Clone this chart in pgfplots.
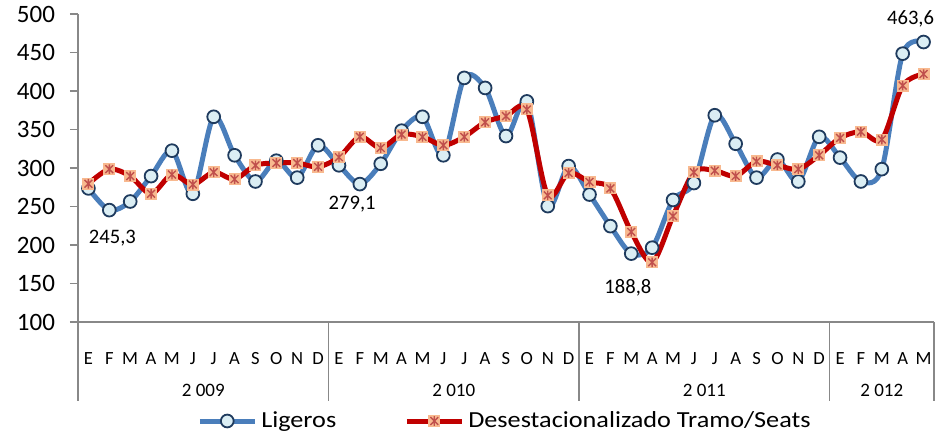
\documentclass[border=0pt]{standalone}
\usepackage{fontspec}
\setmainfont{Carlito}
\usepackage{graphicx}
\usepackage{pgfplots}
\usepackage{pgfplotstable}
\pgfplotsset{compat=1.18}
\definecolor{lblue}{HTML}{4A7EBB}
\definecolor{cfill}{HTML}{DBEEF4}
\definecolor{cdraw}{HTML}{1F3B5E}
\definecolor{lred}{HTML}{C00000}
\definecolor{sqfill}{HTML}{F8B98F}
\definecolor{xred}{HTML}{C0504D}
\definecolor{axgray}{HTML}{888888}

\pgfdeclareplotmark{xsq}{%
  \pgfpathrectangle{\pgfqpoint{-\pgfplotmarksize}{-\pgfplotmarksize}}{\pgfqpoint{2\pgfplotmarksize}{2\pgfplotmarksize}}%
  \pgfsetfillcolor{sqfill}\pgfusepathqfill
  \pgfsetstrokecolor{xred}\pgfsetlinewidth{0.7pt}%
  \pgfpathmoveto{\pgfpoint{-0.65\pgfplotmarksize}{-0.65\pgfplotmarksize}}%
  \pgfpathlineto{\pgfpoint{0.65\pgfplotmarksize}{0.65\pgfplotmarksize}}%
  \pgfpathmoveto{\pgfpoint{-0.65\pgfplotmarksize}{0.65\pgfplotmarksize}}%
  \pgfpathlineto{\pgfpoint{0.65\pgfplotmarksize}{-0.65\pgfplotmarksize}}%
  \pgfpathmoveto{\pgfpoint{0pt}{-0.8\pgfplotmarksize}}%
  \pgfpathlineto{\pgfpoint{0pt}{0.8\pgfplotmarksize}}%
  \pgfusepathqstroke
}

\pgfplotstableread{
x lig des
0 273.5 279.5
1 245.3 298.5
2 256.5 289.5
3 289.5 266.5
4 322.5 291.5
5 266.5 278.5
6 366.5 294.5
7 316.5 285.5
8 282.5 303.5
9 309.5 306.5
10 287.5 306.5
11 329.5 301.5
12 303.5 314
13 279.1 340.5
14 305.5 326
15 348.5 343.5
16 366.5 340.5
17 316.5 329.5
18 417 340.5
19 404 359.5
20 341.5 367.5
21 386.5 376
22 250.5 264.5
23 302.5 293.5
24 265.5 282
25 224.5 273.5
26 188.8 217
27 196.5 177.5
28 258.5 237.5
29 280.5 294.5
30 368.5 296.5
31 331.5 289.5
32 287.5 308.5
33 311 303.5
34 282.5 298.5
35 340.5 316.5
36 313.5 339
37 282.5 347
38 298.5 337
39 448.5 407
40 463.6 422
}\data

\begin{document}
\begin{tikzpicture}
\begin{axis}[
  name=ax,
  width=428pt, height=154pt, scale only axis,
  xmin=-0.5, xmax=40.5, ymin=100, ymax=500,
  clip=false,
  axis x line*=bottom, axis y line*=left,
  axis line style={axgray, line width=0.75pt, -},
  ytick={100,150,...,500},
  ytick style={axgray, line width=0.75pt},
  tick align=outside, major tick length=4pt,
  xtick={0,...,40},
  xtick style={draw=none},
  xticklabels={E,F,M,A,M,J,J,A,S,O,N,D,E,F,M,A,M,J,J,A,S,O,N,D,E,F,M,A,M,J,J,A,S,O,N,D,E,F,M,A,M},
  x tick label style={font=\fontsize{9.3}{11}\selectfont, anchor=base, yshift=-17.5pt},
  y tick label style={font=\fontsize{12.5}{15}\selectfont, xshift=-4pt},
  /pgf/number format/assume math mode=true,
  legend columns=2,
  legend style={at={(0.5,0)}, anchor=center, yshift=-49.5pt, draw=none, fill=none,
    font=\fontsize{11.5}{14}\selectfont,
    nodes={inner xsep=2pt},
    /tikz/every even column/.append style={column sep=32pt}},
  legend image code/.code={\draw[mark repeat=2,mark phase=2,#1] plot coordinates {(0pt,0pt)(13.75pt,0pt)(27.5pt,0pt)};},
]
\addplot[lblue, line width=2.5pt, smooth, mark=*, mark size=3.2pt,
  mark options={fill=cfill, draw=cdraw, line width=0.9pt}] table[x=x,y=lig] {\data};
\addlegendentry{\scalebox{1.14}[1]{Ligeros}}
\addplot[lred, line width=2.5pt, smooth, mark=xsq, mark size=3pt] table[x=x,y=des] {\data};
\addlegendentry{\scalebox{1.14}[1]{Desestacionalizado Tramo/Seats}}

\pgfplotsinvokeforeach{-0.5,11.5,23.5,35.5,40.5}{
  \draw[axgray, line width=0.75pt] (axis cs:#1,100) -- ([yshift=-39.5pt]axis cs:#1,100);
}
\node[font=\fontsize{9.5}{11}\selectfont, anchor=base] at ([yshift=-37.5pt]axis cs:5.5,100) {2 009};
\node[font=\fontsize{9.5}{11}\selectfont, anchor=base] at ([yshift=-37.5pt]axis cs:17.5,100) {2 010};
\node[font=\fontsize{9.5}{11}\selectfont, anchor=base] at ([yshift=-37.5pt]axis cs:29.5,100) {2 011};
\node[font=\fontsize{9.5}{11}\selectfont, anchor=base] at ([yshift=-37.5pt]axis cs:38,100) {2 012};

\node[font=\fontsize{10.3}{12}\selectfont] at (axis cs:1.15,209) {245,3};
\node[font=\fontsize{10.3}{12}\selectfont] at (axis cs:12.63,253) {279,1};
\node[font=\fontsize{10.3}{12}\selectfont] at (axis cs:25.84,144) {188,8};
\node[font=\fontsize{10.3}{12}\selectfont] at (axis cs:39.38,493.5) {463,6};
\end{axis}
\pgfresetboundingbox
\path[use as bounding box] ([xshift=-39pt,yshift=-55.5pt]ax.south west) rectangle ([xshift=7.5pt,yshift=7pt]ax.north east);
\end{tikzpicture}
\end{document}
